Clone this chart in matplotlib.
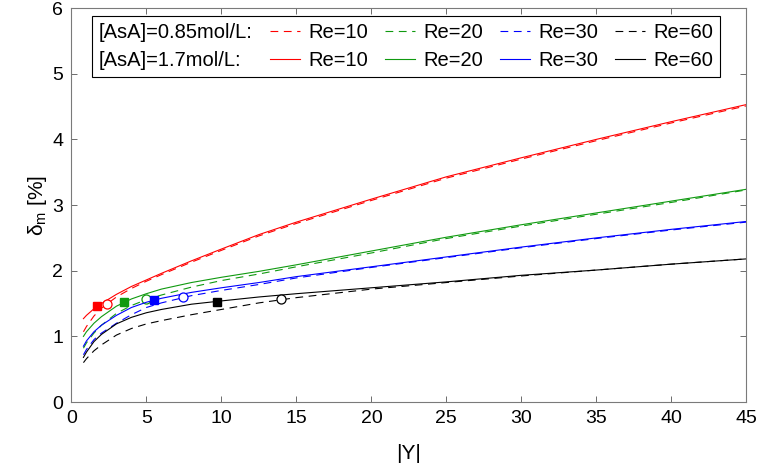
import matplotlib
matplotlib.use("Agg")
import matplotlib.pyplot as plt

plt.rcParams['font.family'] = ['Liberation Sans', 'DejaVu Sans']
plt.rcParams['mathtext.default'] = 'regular'

# |Y| sample positions shared by every curve
y_abs = [0.8, 1, 1.5, 2, 3, 4, 5, 6, 8, 10, 12.5, 15, 20, 25, 30, 35, 40, 45]

# [AsA]=1.7 mol/L (solid)
re10_hi = [1.27, 1.32, 1.42, 1.50, 1.64, 1.76, 1.86, 1.96, 2.15, 2.33, 2.55, 2.74, 3.09, 3.43, 3.72, 4.00, 4.27, 4.53]
re20_hi = [1.00, 1.07, 1.20, 1.30, 1.46, 1.57, 1.65, 1.72, 1.82, 1.90, 1.99, 2.09, 2.30, 2.51, 2.70, 2.88, 3.06, 3.24]
re30_hi = [0.85, 0.93, 1.07, 1.17, 1.32, 1.44, 1.52, 1.58, 1.67, 1.74, 1.82, 1.91, 2.06, 2.21, 2.36, 2.50, 2.63, 2.75]
re60_hi = [0.68, 0.76, 0.92, 1.03, 1.19, 1.29, 1.36, 1.41, 1.49, 1.54, 1.60, 1.65, 1.74, 1.83, 1.93, 2.01, 2.10, 2.18]

# [AsA]=0.85 mol/L (dashed)
re10_lo = [1.07, 1.15, 1.31, 1.43, 1.60, 1.73, 1.84, 1.94, 2.13, 2.31, 2.53, 2.72, 3.07, 3.41, 3.70, 3.98, 4.25, 4.51]
re20_lo = [0.82, 0.90, 1.05, 1.17, 1.35, 1.47, 1.56, 1.63, 1.75, 1.85, 1.95, 2.06, 2.27, 2.49, 2.68, 2.86, 3.04, 3.23]
re30_lo = [0.72, 0.80, 0.95, 1.05, 1.20, 1.33, 1.44, 1.51, 1.62, 1.70, 1.79, 1.89, 2.05, 2.20, 2.35, 2.49, 2.62, 2.74]
re60_lo = [0.60, 0.66, 0.78, 0.87, 1.02, 1.12, 1.19, 1.24, 1.33, 1.41, 1.51, 1.59, 1.72, 1.82, 1.92, 2.01, 2.10, 2.18]

# marked points: squares on solid curves, open circles on dashed curves
sq_x = [1.72, 3.52, 5.5, 9.72]
sq_y = [1.46, 1.53, 1.55, 1.52]
ci_x = [2.35, 5.0, 7.41, 14.0]
ci_y = [1.49, 1.565, 1.595, 1.565]

re_labels = ['Re=10', 'Re=20', 'Re=30', 'Re=60']
colors = ['#ff0000', '#109a10', '#0000ff', '#000000']
conc_labels = ['[AsA]=0.85mol/L:', '[AsA]=1.7mol/L:']

fig = plt.figure(figsize=(7.6, 4.73), dpi=100)
ax = fig.add_axes([0.094, 0.150, 0.888, 0.833])

hi = [re10_hi, re20_hi, re30_hi, re60_hi]
lo = [re10_lo, re20_lo, re30_lo, re60_lo]
dash_handles, solid_handles = [], []
for i, c in enumerate(colors):
    l1, = ax.plot(y_abs, lo[i], color=c, lw=0.8, linestyle=(0, (7, 5)), label=re_labels[i])
    l2, = ax.plot(y_abs, hi[i], color=c, lw=0.8, label=re_labels[i])
    dash_handles.append(l1)
    solid_handles.append(l2)
    ax.plot(sq_x[i], sq_y[i], 's', color=c, ms=5.5, mec=c)
    ax.plot(ci_x[i], ci_y[i], 'o', mfc='white', mec=c, ms=6.5, mew=0.9)

ax.set_xlim(0, 45)
ax.set_ylim(0, 6)
ax.set_xticks(range(0, 46, 5))
ax.set_yticks(range(0, 7))
ax.tick_params(direction='in', top=True, right=True, length=4, width=0.6,
               labelsize=14, color='#555555', pad=6)
for s in ax.spines.values():
    s.set_color('#7a7a7a')
    s.set_linewidth(0.8)
ax.set_xlabel('|Y|', fontsize=15, labelpad=12)
ax.set_ylabel(r'$\delta_{m}$ [%]', fontsize=15, labelpad=2)

# legend: first column holds the concentration labels only
blank = [plt.Line2D([], [], color='none') for _ in conc_labels]
handles, labels = [], []
handles += blank
labels += conc_labels
for d, s, lab in zip(dash_handles, solid_handles, re_labels):
    handles += [d, s]
    labels += [lab, lab]
leg = ax.legend(handles, labels, ncol=5, loc='upper left',
                bbox_to_anchor=(0.030, 0.980), borderaxespad=0,
                fontsize=14.5, frameon=True, fancybox=False, framealpha=1,
                edgecolor='black', handlelength=1.5, handletextpad=0.4,
                columnspacing=0.85, labelspacing=0.45, borderpad=0.35)
leg.get_frame().set_linewidth(0.8)
try:
    first_col = leg._legend_handle_box.get_children()[0]
    for row in first_col.get_children():
        del row.get_children()[0]
except Exception:
    pass

fig.savefig('out.png', dpi=100)
